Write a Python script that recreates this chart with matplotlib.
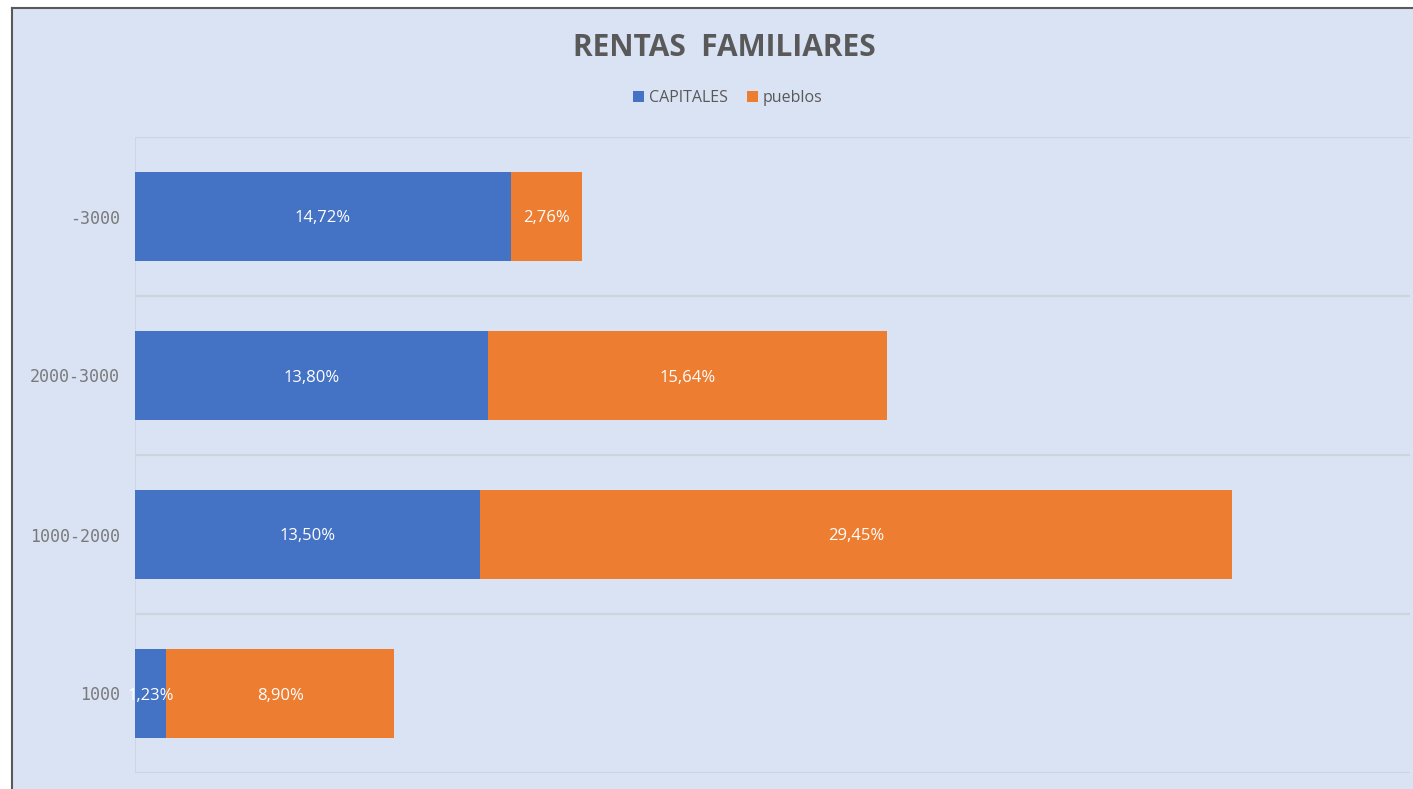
import matplotlib
matplotlib.use("Agg")
import matplotlib.pyplot as plt
from matplotlib.patches import Rectangle
from matplotlib.lines import Line2D

# datos
categorias = ["1000", "1000-2000", "2000-3000", "-3000"]
capitales = [1.23, 13.50, 13.80, 14.72]
pueblos = [8.90, 29.45, 15.64, 2.76]

azul = "#4472C4"
naranja = "#ED7D31"
fondo = "#DAE3F3"
gris = "#595959"

W, H = 1413, 789
fig = plt.figure(figsize=(W / 100, H / 100), dpi=100, facecolor="white")

# fondo del grafico con borde (recortado a la derecha y abajo)
fig.patches.append(Rectangle((12 / W, 0), 1, 1 - 8 / H, transform=fig.transFigure,
                             facecolor=fondo, edgecolor="none", zorder=-10))
fig.lines.append(Line2D([12 / W, 1], [1 - 8 / H, 1 - 8 / H], transform=fig.transFigure,
                        color=gris, lw=1.5, zorder=-5))
fig.lines.append(Line2D([12 / W, 12 / W], [0, 1 - 8 / H], transform=fig.transFigure,
                        color=gris, lw=1.5, zorder=-5))

ax = fig.add_axes([135 / W, 1 - 773 / H, (1410 - 135) / W, (773 - 137) / H])
ax.set_facecolor("none")
ax.set_zorder(1)

y = range(len(categorias))
h = 0.56
b1 = ax.barh(y, capitales, height=h, color=azul, label="CAPITALES", zorder=3)
b2 = ax.barh(y, pueblos, height=h, left=capitales, color=naranja, label="pueblos", zorder=3)

for barras in (b1, b2):
    for r in barras:
        v = r.get_width()
        ax.text(r.get_x() + v / 2, r.get_y() + r.get_height() / 2,
                ("%.2f%%" % v).replace(".", ","), color="white",
                ha="center", va="center_baseline", fontsize=12, family="Open Sans", zorder=4)

ax.set_xlim(0, 49.9)
ax.set_ylim(-0.5, len(categorias) - 0.5)
ax.set_yticks(list(y))
ax.set_yticklabels(categorias, family="DejaVu Sans Mono", fontsize=12, color="#7A7A7A")
ax.set_xticks([])
ax.tick_params(axis="y", length=0, pad=11)

for yy in [-0.5, 0.5, 1.5, 2.5, 3.5]:
    ax.axhline(yy, color="#CDD3DF", lw=1.6, zorder=1)
ax.axvline(0, color="#CDD3DF", lw=1.2, zorder=1)
for s in ax.spines.values():
    s.set_visible(False)

fig.text(724 / W, 1 - 48 / H, "RENTAS  FAMILIARES", ha="center", va="center",
         fontsize=21.5, fontweight="bold", color=gris, family="Open Sans")

fig.legend(handles=[b1, b2], loc="center", bbox_to_anchor=(728 / W, 1 - 98 / H),
           ncol=2, frameon=False, handlelength=0.7, handleheight=0.7,
           handletextpad=0.3, columnspacing=1.2,
           prop={"family": "Open Sans", "size": 11.5}, labelcolor=gris)

fig.savefig("out.png", dpi=100, facecolor="white")
